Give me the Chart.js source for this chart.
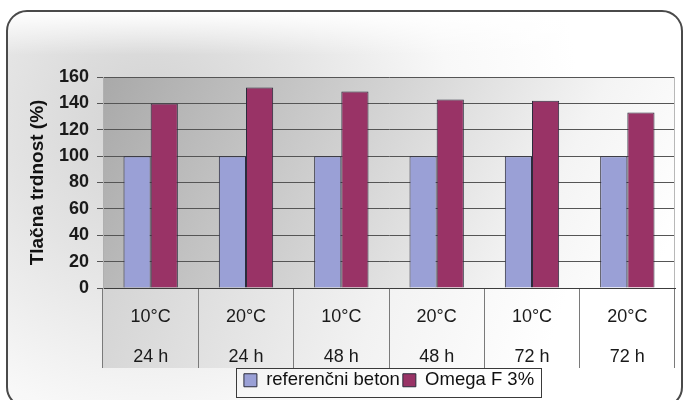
<!DOCTYPE html>
<html>
<head>
<meta charset="utf-8">
<script src="https://cdn.jsdelivr.net/npm/chart.js@4/dist/chart.umd.min.js"></script>
<style>
  html, body { margin: 0; padding: 0; background: #ffffff; }
  #wrap { width: 684px; height: 400px; position: relative; }
</style>
</head>
<body>
<div id="wrap"><canvas id="chart" width="684" height="400"></canvas></div>
<script>
// Curing temperature and age for each group of bars
const tempLabels = ['10°C', '20°C', '10°C', '20°C', '10°C', '20°C'];
const timeLabels = ['24 h', '24 h', '48 h', '48 h', '72 h', '72 h'];

// Relative compressive strength (%)
const referenceValues = [100, 100, 100, 100, 100, 100];
const omegaValues = [140, 152, 149, 143, 142, 133];

// Series names
const seriesNames = ['referenčni beton', 'Omega F 3%'];

// Value axis
const yMin = 0;
const yMax = 160;
const yStep = 20;
const yTitle = 'Tlačna trdnost (%)';

const categories = tempLabels.map((t, i) => [t, timeLabels[i]]);

const FONT = '"Liberation Sans", Arial, Helvetica, sans-serif';

// Rounded outer frame, shaded plot area and shaded category band
const backdrop = {
  id: 'backdrop',
  beforeDraw(chart) {
    const ctx = chart.ctx;
    const a = chart.chartArea;
    const xs = chart.scales.x;
    ctx.save();

    // outer frame
    const fx = 7, fy = 11, fw = 675, fh = 396, r = 20;
    ctx.beginPath();
    ctx.roundRect(fx, fy, fw, fh, r);
    ctx.fillStyle = '#ffffff';
    ctx.fill();
    const rg = ctx.createRadialGradient(150, 120, 0, 150, 120, 430);
    rg.addColorStop(0, '#d2d2d2');
    rg.addColorStop(0.35, '#e4e4e4');
    rg.addColorStop(0.7, '#f8f8f8');
    rg.addColorStop(1, '#ffffff');
    ctx.fillStyle = rg;
    ctx.fill();
    const tg = ctx.createLinearGradient(0, fy, 0, 55);
    tg.addColorStop(0, 'rgba(255,255,255,1)');
    tg.addColorStop(1, 'rgba(255,255,255,0)');
    ctx.fillStyle = tg;
    ctx.fill();

    // plot area
    const pg = ctx.createLinearGradient(a.left, a.top, a.left + 520, a.top + 260);
    pg.addColorStop(0, '#a9a9a9');
    pg.addColorStop(0.45, '#d3d3d3');
    pg.addColorStop(0.78, '#f4f4f4');
    pg.addColorStop(1, '#ffffff');
    ctx.fillStyle = pg;
    ctx.fillRect(a.left, a.top, a.right - a.left, a.bottom - a.top);

    // category label band
    const lg = ctx.createLinearGradient(a.left, xs.top, a.left + 420, xs.bottom + 60);
    lg.addColorStop(0, '#d4d4d4');
    lg.addColorStop(0.6, '#f2f2f2');
    lg.addColorStop(1, '#ffffff');
    ctx.fillStyle = lg;
    ctx.fillRect(a.left, xs.top, a.right - a.left, xs.bottom - xs.top);

    // frame outline
    ctx.beginPath();
    ctx.roundRect(fx, fy, fw, fh, r);
    ctx.lineWidth = 2;
    ctx.strokeStyle = '#4a4a4a';
    ctx.stroke();
    ctx.restore();
  },
  afterDatasetsDraw(chart) {
    // light right edge of the plot area
    const ctx = chart.ctx;
    const a = chart.chartArea;
    ctx.save();
    ctx.strokeStyle = '#b8b8b8';
    ctx.lineWidth = 1;
    ctx.beginPath();
    ctx.moveTo(a.right - 0.5, a.top);
    ctx.lineTo(a.right - 0.5, a.bottom);
    ctx.stroke();
    ctx.restore();
  }
};

// Boxed legend placed under the category band
const legendBox = {
  id: 'legendBox',
  afterLayout(chart) {
    const lg = chart.legend;
    if (!lg) return;
    lg.left = 236;
    lg.right = 542;
    lg.width = 306;
    lg.top = 368;
    lg.bottom = 398;
    lg.height = 30;
  },
  afterDraw(chart) {
    const lg = chart.legend;
    const ctx = chart.ctx;
    ctx.save();
    ctx.strokeStyle = '#3a3a3a';
    ctx.lineWidth = 1;
    ctx.strokeRect(lg.left + 0.5, lg.top + 0.5, lg.width - 1, lg.height - 1);
    ctx.restore();
  }
};

new Chart(document.getElementById('chart'), {
  type: 'bar',
  data: {
    labels: categories,
    datasets: [
      {
        label: seriesNames[0],
        data: referenceValues,
        backgroundColor: '#9aa0d6',
        borderColor: '#2b2b3b',
        borderWidth: 1
      },
      {
        label: seriesNames[1],
        data: omegaValues,
        backgroundColor: '#993366',
        borderColor: '#2b2b3b',
        borderWidth: 1
      }
    ]
  },
  options: {
    responsive: false,
    devicePixelRatio: 1,
    animation: false,
    categoryPercentage: 0.57,
    barPercentage: 1.0,
    layout: { padding: { left: 20, right: 9, top: 77, bottom: 2 } },
    plugins: {
      legend: {
        display: true,
        position: 'bottom',
        maxHeight: 30,
        labels: {
          boxWidth: 13,
          boxHeight: 13,
          padding: 3,
          color: '#111111',
          font: { family: FONT, size: 18.5 }
        }
      },
      tooltip: { enabled: false },
      title: { display: false }
    },
    scales: {
      x: {
        offset: true,
        grid: {
          offset: true,
          drawOnChartArea: false,
          drawTicks: true,
          tickLength: 80,
          color: '#7a7a7a',
          lineWidth: 1
        },
        border: { display: true, color: '#3c3c3c', width: 1 },
        ticks: {
          autoSkip: false,
          maxRotation: 0,
          minRotation: 0,
          padding: -71,
          color: '#1a1a1a',
          font: { family: FONT, size: 18, lineHeight: '40px' }
        },
        afterFit(scale) { scale.height = 80; }
      },
      y: {
        min: yMin,
        max: yMax,
        ticks: {
          stepSize: yStep,
          padding: 8,
          color: '#1a1a1a',
          font: { family: FONT, size: 18, weight: 'bold' }
        },
        grid: {
          color: '#555555',
          lineWidth: 1,
          tickLength: 6,
          drawTicks: true
        },
        border: { display: true, color: '#b0b0b0', width: 1 },
        title: {
          display: true,
          text: yTitle,
          color: '#111111',
          padding: { top: 6, bottom: 0 },
          font: { family: FONT, size: 19, weight: 'bold' }
        },
        afterFit(scale) { scale.width = 83; }
      }
    }
  },
  plugins: [backdrop, legendBox]
});
</script>
</body>
</html>
